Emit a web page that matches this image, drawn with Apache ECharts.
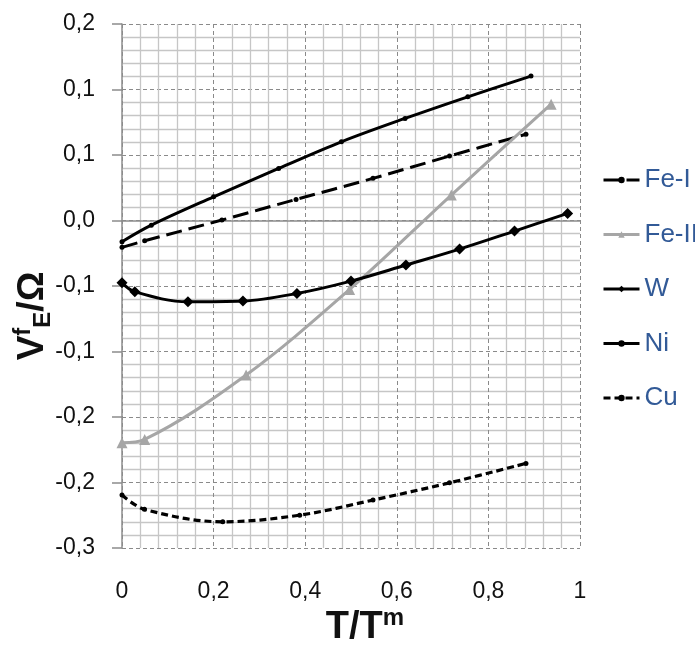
<!DOCTYPE html>
<html>
<head>
<meta charset="utf-8">
<script src="https://cdn.jsdelivr.net/npm/echarts@6/dist/echarts.min.js"></script>
<style>html,body{margin:0;padding:0;background:#fff}#c{width:695px;height:648px}</style>
</head>
<body>
<div id="c"></div>
<script>
// ---- data ----
const seriesNames = ['Fe-I', 'Fe-II', 'W', 'Ni', 'Cu'];
const feI_x  = [0, 0.0495, 0.218, 0.380, 0.548, 0.715, 0.882];
const feI_y  = [-0.0246, -0.0186, 0.0004, 0.0193, 0.0386, 0.059, 0.079];
const feII_x = [0, 0.0495, 0.271, 0.497, 0.719, 0.937];
const feII_y = [-0.2036, -0.2005, -0.1416, -0.0631, 0.0233, 0.1066];
const w_x    = [0, 0.028, 0.144, 0.264, 0.382, 0.500, 0.620, 0.737, 0.857, 0.973];
const w_y    = [-0.0571, -0.0653, -0.0745, -0.0738, -0.0668, -0.0555, -0.0408, -0.0262, -0.0097, 0.0065];
const ni_x   = [0, 0.064, 0.200, 0.342, 0.479, 0.618, 0.755, 0.893];
const ni_y   = [-0.0195, -0.0043, 0.0217, 0.0477, 0.0721, 0.0935, 0.1133, 0.1323];
const cu_x   = [0, 0.049, 0.220, 0.388, 0.548, 0.715, 0.882];
const cu_y   = [-0.2515, -0.2646, -0.2760, -0.2699, -0.2561, -0.2403, -0.2225];
const xTickLabels = ['0', '0,2', '0,4', '0,6', '0,8', '1'];
const yTickLabels = ['-0,3', '-0,2', '-0,2', '-0,1', '-0,1', '0,0', '0,1', '0,1', '0,2'];
const xMin = 0, xMax = 1, xStep = 0.2;
const yMin = -0.3, yMax = 0.18, yStep = 0.06;

const pairs = (xs, ys) => xs.map((x, i) => [x, ys[i]]);
const FONT = 'Liberation Sans';
const chart = echarts.init(document.getElementById('c'), null, {renderer: 'canvas'});

const base = {type: 'line', smooth: 0.35, showAllSymbol: true, xAxisIndex: 0, yAxisIndex: 0, z: 5};
const option = {
  animation: false,
  backgroundColor: '#fff',
  grid: {left: 122, right: 115, top: 24, bottom: 100},
  xAxis: [{
    type: 'value', min: xMin, max: xMax, interval: xStep,
    axisLine: {show: true, onZero: true, lineStyle: {color: '#8c8c8c', width: 1.5}},
    axisTick: {show: false},
    axisLabel: {show: false},
    splitLine: {show: true, lineStyle: {color: '#8a8a8a', width: 1, type: [4, 3]}},
    minorTick: {show: false, splitNumber: 5},
    minorSplitLine: {show: true, lineStyle: {color: '#c6c6c6', width: 1.3}}
  }, {
    type: 'value', min: xMin, max: xMax, interval: xStep, position: 'bottom',
    axisLine: {show: false, onZero: false},
    axisTick: {show: false},
    splitLine: {show: false},
    axisLabel: {
      show: true, margin: 32, color: '#111', fontFamily: FONT, fontSize: 23,
      formatter: v => xTickLabels[Math.round((v - xMin) / xStep)]
    }
  }],
  yAxis: {
    type: 'value', min: yMin, max: yMax, interval: yStep,
    axisLine: {show: true, lineStyle: {color: '#8c8c8c', width: 1.5}},
    axisTick: {show: true, inside: false, length: 10, lineStyle: {color: '#8c8c8c', width: 1.5}},
    axisLabel: {
      margin: 27, color: '#111', fontFamily: FONT, fontSize: 23,
      formatter: v => yTickLabels[Math.round((v - yMin) / yStep)]
    },
    splitLine: {show: true, lineStyle: {color: '#8a8a8a', width: 1, type: [4, 3]}},
    minorTick: {show: false, splitNumber: 5},
    minorSplitLine: {show: true, lineStyle: {color: '#c6c6c6', width: 1.3}}
  },
  legend: {
    orient: 'vertical', left: 597, top: 162, itemGap: 28.5,
    itemWidth: 36, itemHeight: 8,
    lineStyle: {width: 3},
    textStyle: {color: '#325a97', fontFamily: FONT, fontSize: 26, lineHeight: 26},
    data: seriesNames
  },
  graphic: [{
    type: 'text', x: 33, y: 316, rotation: Math.PI / 2,
    style: {
      text: '{b|V}{s|f}{u|E}{b|/Ω}', align: 'center', verticalAlign: 'middle',
      rich: {
        b: {fontFamily: FONT, fontSize: 37, fontWeight: 'bold', fill: '#111', lineHeight: 44, verticalAlign: 'middle'},
        s: {fontFamily: FONT, fontSize: 24, fontWeight: 'bold', fill: '#111', lineHeight: 24, verticalAlign: 'top'},
        u: {fontFamily: FONT, fontSize: 24, fontWeight: 'bold', fill: '#111', lineHeight: 24, verticalAlign: 'bottom'}
      }
    }
  }, {
    type: 'text', x: 365, y: 628,
    style: {
      text: '{b|T/T}{s|m}', align: 'center', verticalAlign: 'middle',
      rich: {
        b: {fontFamily: FONT, fontSize: 38, fontWeight: 'bold', fill: '#111', lineHeight: 44, verticalAlign: 'middle'},
        s: {fontFamily: FONT, fontSize: 24, fontWeight: 'bold', fill: '#111', lineHeight: 24, verticalAlign: 'top'}
      }
    }
  }],
  series: [
    Object.assign({}, base, {
      name: 'Fe-I', data: pairs(feI_x, feI_y), symbol: 'circle', symbolSize: 5,
      itemStyle: {color: '#000'}, lineStyle: {color: '#000', width: 3, type: [16, 7]}
    }),
    Object.assign({}, base, {
      name: 'Fe-II', data: pairs(feII_x, feII_y), symbol: 'triangle', symbolSize: 11,
      itemStyle: {color: '#a6a6a6'}, lineStyle: {color: '#a6a6a6', width: 3}
    }),
    Object.assign({}, base, {
      name: 'W', data: pairs(w_x, w_y), symbol: 'diamond', symbolSize: 11,
      itemStyle: {color: '#000'}, lineStyle: {color: '#000', width: 3}
    }),
    Object.assign({}, base, {
      name: 'Ni', data: pairs(ni_x, ni_y), symbol: 'circle', symbolSize: 5,
      itemStyle: {color: '#000'}, lineStyle: {color: '#000', width: 3}
    }),
    Object.assign({}, base, {
      name: 'Cu', data: pairs(cu_x, cu_y), symbol: 'circle', symbolSize: 5,
      itemStyle: {color: '#000'}, lineStyle: {color: '#000', width: 3.2, type: [7, 4]}
    })
  ]
};
chart.setOption(option);
</script>
</body>
</html>
